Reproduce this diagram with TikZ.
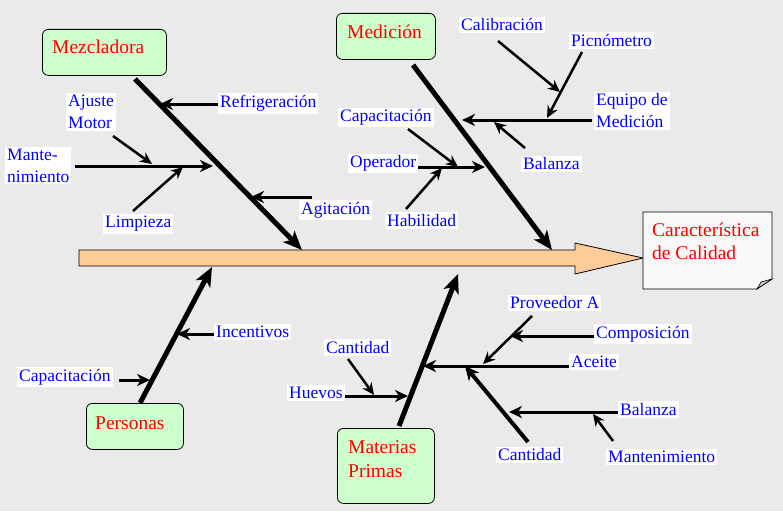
\documentclass[tikz,border=0pt]{standalone}
\usepackage{fontspec}
\setmainfont{Liberation Serif}
\usetikzlibrary{arrows.meta}
\definecolor{bg}{RGB}{234,234,234}
\definecolor{peach}{RGB}{255,204,153}
\definecolor{mint}{RGB}{204,255,204}
\definecolor{paper}{RGB}{248,248,248}
\definecolor{foldgray}{RGB}{200,200,200}
\definecolor{lblue}{RGB}{0,0,255}
\definecolor{lred}{RGB}{255,0,0}
\begin{document}
\begin{tikzpicture}[x=1pt,y=-1pt,
  lbl/.style={fill=white, text=lblue, font=\fontsize{17.5}{22}\selectfont, inner xsep=2pt, inner ysep=2pt, anchor=west, align=left},
  catbox/.style={draw=black, fill=mint, rounded corners=6pt, line width=0.8pt, anchor=north west, inner sep=0pt},
  cattext/.style={text=lred, font=\fontsize{19.5}{23.5}\selectfont, anchor=base west, inner sep=0pt},
  bone/.style={line width=5pt, -{Stealth[length=19pt,width=16pt,inset=5pt]}},
  sub/.style={line width=3pt, -{Stealth[length=13pt,width=12pt,inset=4pt]}},
  thinsub/.style={line width=2.5pt, -{Stealth[length=12pt,width=11pt,inset=4pt]}},
]
\useasboundingbox (0,0) rectangle (783,511);
\fill[bg] (0,0) rectangle (783,511);

% main spine
\filldraw[fill=peach, draw=black, line width=0.8pt]
  (79,250) -- (575,250) -- (575,243) -- (643,258) -- (575,274) -- (575,266) -- (79,266) -- cycle;

% head box
\filldraw[fill=paper, draw=black, line width=0.8pt]
  (643,212) -- (772,212) -- (772,279) -- (757,289) -- (643,289) -- cycle;
\filldraw[fill=foldgray, draw=black, line width=0.6pt] (772,279) -- (761,282) -- (757,289) -- cycle;
\node[cattext] (head1) at (652,236) {Característica};
\node[cattext] (head2) at (652,259) {de Calidad};

% category boxes
\node[catbox, minimum width=124pt, minimum height=46pt] (mezc) at (42,29) {};
\node[cattext] (mezct) at (52,53) {Mezcladora};
\node[catbox, minimum width=99pt, minimum height=46pt] (medi) at (336,13) {};
\node[cattext] (medit) at (347,38) {Medición};
\node[catbox, minimum width=97pt, minimum height=46pt] (pers) at (86,403) {};
\node[cattext] (perst) at (95,429) {Personas};
\node[catbox, minimum width=97pt, minimum height=75pt] (mate) at (337,428) {};
\node[cattext] (matet1) at (348,453) {Materias};
\node[cattext] (matet2) at (348,477) {Primas};

% coordinates for bones
\coordinate (mzS) at (135,79);  \coordinate (mzE) at (302,250);
\coordinate (mdS) at (413,65);  \coordinate (mdE) at (552,250);
\coordinate (psS) at (140,403); \coordinate (psE) at (212,267);
\coordinate (mpS) at (399,426); \coordinate (mpE) at (458,274);

\draw[bone] (mzS) -- (mzE);
\draw[bone] (mdS) -- (mdE);
\draw[bone] (psS) -- (psE);
\draw[bone] (mpS) -- (mpE);

% Mezcladora sub-bones
\coordinate (a1s) at (218,104); \coordinate (a1e) at (160,104);
\coordinate (a2s) at (312,197); \coordinate (a2e) at (251,197);
\coordinate (a3s) at (75,166);  \coordinate (a3e) at (213,166);
\coordinate (a4s) at (113,136); \coordinate (a4e) at (152,164);
\coordinate (a5s) at (133,211); \coordinate (a5e) at (183,167);
\draw[sub] (a1s) -- (a1e);
\draw[sub] (a2s) -- (a2e);
\draw[sub] (a3s) -- (a3e);
\draw[thinsub] (a4s) -- (a4e);
\draw[thinsub] (a5s) -- (a5e);

% Medición sub-bones
\coordinate (b1s) at (498,41);  \coordinate (b1e) at (560,92);
\coordinate (b2s) at (582,52);  \coordinate (b2e) at (547,118);
\coordinate (b3s) at (592,120); \coordinate (b3e) at (462,120);
\coordinate (b4s) at (525,148); \coordinate (b4e) at (494,122);
\coordinate (b5s) at (408,129); \coordinate (b5e) at (458,167);
\coordinate (b6s) at (418,167); \coordinate (b6e) at (485,167);
\coordinate (b7s) at (406,209); \coordinate (b7e) at (442,168);
\draw[thinsub] (b1s) -- (b1e);
\draw[thinsub] (b2s) -- (b2e);
\draw[sub] (b3s) -- (b3e);
\draw[thinsub] (b4s) -- (b4e);
\draw[thinsub] (b5s) -- (b5e);
\draw[sub] (b6s) -- (b6e);
\draw[thinsub] (b7s) -- (b7e);

% Personas sub-bones
\coordinate (c1s) at (214,334); \coordinate (c1e) at (177,334);
\coordinate (c2s) at (119,380); \coordinate (c2e) at (150,380);
\draw[sub] (c1s) -- (c1e);
\draw[sub] (c2s) -- (c2e);

% Materias Primas sub-bones
\coordinate (d1s) at (345,396); \coordinate (d1e) at (408,396);
\coordinate (d2s) at (348,359); \coordinate (d2e) at (374,395);
\coordinate (d3s) at (569,366); \coordinate (d3e) at (423,366);
\coordinate (d4s) at (532,316); \coordinate (d4e) at (483,364);
\coordinate (d5s) at (594,336); \coordinate (d5e) at (510,336);
\coordinate (d6s) at (528,442); \coordinate (d6e) at (465,366);
\coordinate (d7s) at (618,412); \coordinate (d7e) at (509,412);
\coordinate (d8s) at (613,441); \coordinate (d8e) at (593,414);
\draw[sub] (d1s) -- (d1e);
\draw[thinsub] (d2s) -- (d2e);
\draw[sub] (d3s) -- (d3e);
\draw[thinsub] (d4s) -- (d4e);
\draw[sub] (d5s) -- (d5e);
\draw[line width=4pt, -{Stealth[length=14pt,width=13pt,inset=4pt]}] (d6s) -- (d6e);
\draw[sub] (d7s) -- (d7e);
\draw[thinsub] (d8s) -- (d8e);

% labels
\node[lbl] (refr) at (218,103.5) {Refrigeración};
\node[lbl] (agit) at (299,210) {Agitación};
\node[lbl] (mant) at (5,165.5) {Mante-\\nimiento};
\node[lbl] (ajus) at (66,112) {Ajuste\\Motor};
\node[lbl] (limp) at (103,224) {Limpieza};

\node[lbl] (cali) at (459,25) {Calibración};
\node[lbl] (picn) at (569,40.5) {Picnómetro};
\node[lbl] (equi) at (594,111) {Equipo de\\Medición};
\node[lbl] (bal1) at (521,164) {Balanza};
\node[lbl] (cap1) at (338,117.5) {Capacitación};
\node[lbl] (oper) at (348,163.5) {Operador};
\node[lbl] (habi) at (385,220.5) {Habilidad};

\node[lbl] (ince) at (214,332) {Incentivos};
\node[lbl] (cap2) at (17,377) {Capacitación};

\node[lbl] (huev) at (287,393) {Huevos};
\node[lbl] (can1) at (324,347.5) {Cantidad};
\node[lbl] (acei) at (569,362) {Aceite};
\node[lbl] (prov) at (508,303) {Proveedor A};
\node[lbl] (comp) at (594,334) {Composición};
\node[lbl] (can2) at (496,455) {Cantidad};
\node[lbl] (bal2) at (618,409.5) {Balanza};
\node[lbl] (man2) at (606,457) {Mantenimiento};
\end{tikzpicture}
\end{document}
